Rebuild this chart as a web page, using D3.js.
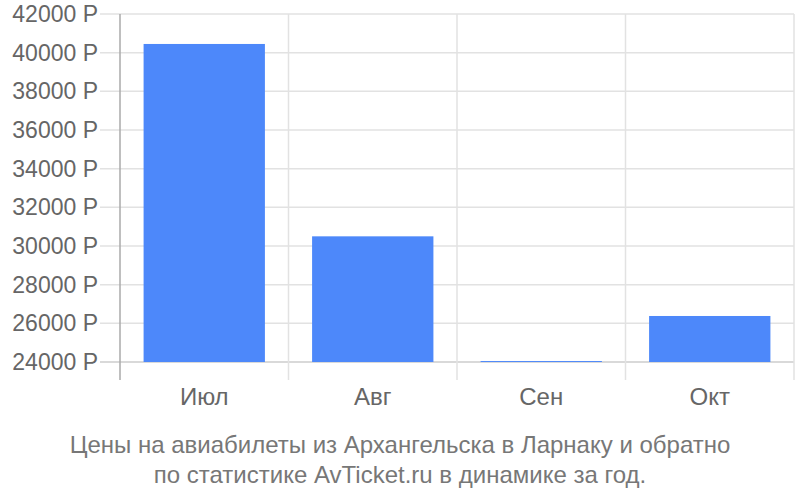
<!DOCTYPE html>
<html><head><meta charset="utf-8">
<script src="https://cdn.jsdelivr.net/npm/d3@7"></script>
<style>body{margin:0;background:#fff}svg{font-family:"Liberation Sans",Arial,sans-serif}</style>
</head><body>
<svg id="c" width="800" height="500"></svg>
<script>
const categories = ["Июл","Авг","Сен","Окт"];
const values = [40450, 30500, 24050, 26380];
const yTicks = [24000,26000,28000,30000,32000,34000,36000,38000,40000,42000];
const titleLines = ["Цены на авиабилеты из Архангельска в Ларнаку и обратно","по статистике AvTicket.ru в динамике за год."];

const svg = d3.select("#c");
const L = 120, R = 794, T = 14, B = 362, axisBottom = 380;
const x = d3.scaleBand().domain(categories).range([L, R]).paddingInner(0.28).paddingOuter(0.14);
const xb = d3.scaleBand().domain(categories).range([L, R]);
const y = d3.scaleLinear().domain([24000, 42000]).range([B, T]);

svg.append("g").selectAll("line").data(yTicks).join("line")
  .attr("x1", 100).attr("x2", R).attr("y1", d=>y(d)).attr("y2", d=>y(d))
  .attr("stroke", d=> d===24000 ? "#cccccc" : "#e2e2e2").attr("stroke-width", 1.5);
svg.append("g").selectAll("line").data(categories).join("line")
  .attr("x1", d=>xb(d)+xb.bandwidth()).attr("x2", d=>xb(d)+xb.bandwidth())
  .attr("y1", T).attr("y2", axisBottom).attr("stroke", "#e2e2e2").attr("stroke-width", 1.5);
svg.append("line").attr("x1", L).attr("x2", L).attr("y1", T).attr("y2", axisBottom)
  .attr("stroke", "#aaaaaa").attr("stroke-width", 1.5);

svg.append("g").selectAll("rect").data(values).join("rect")
  .attr("x", (d,i)=>x(categories[i])).attr("width", x.bandwidth())
  .attr("y", d=>y(d)).attr("height", d=>y(24000)-y(d))
  .attr("fill", "#4d88fa");

svg.append("g").selectAll("text").data(yTicks).join("text")
  .attr("x", 98).attr("y", d=>y(d)).attr("dy", "0.35em").attr("text-anchor","end")
  .attr("font-size", 23).attr("fill", "#666").text(d=>d+" Р");
svg.append("g").selectAll("text").data(categories).join("text")
  .attr("x", d=>xb(d)+xb.bandwidth()/2).attr("y", 405).attr("text-anchor","middle")
  .attr("font-size", 24).attr("fill", "#666").text(d=>d);
svg.append("g").selectAll("text").data(titleLines).join("text")
  .attr("x", 400).attr("y", (d,i)=>453+i*30).attr("text-anchor","middle")
  .attr("font-size", 24).attr("fill", "#777").text(d=>d);
</script>
</body></html>
